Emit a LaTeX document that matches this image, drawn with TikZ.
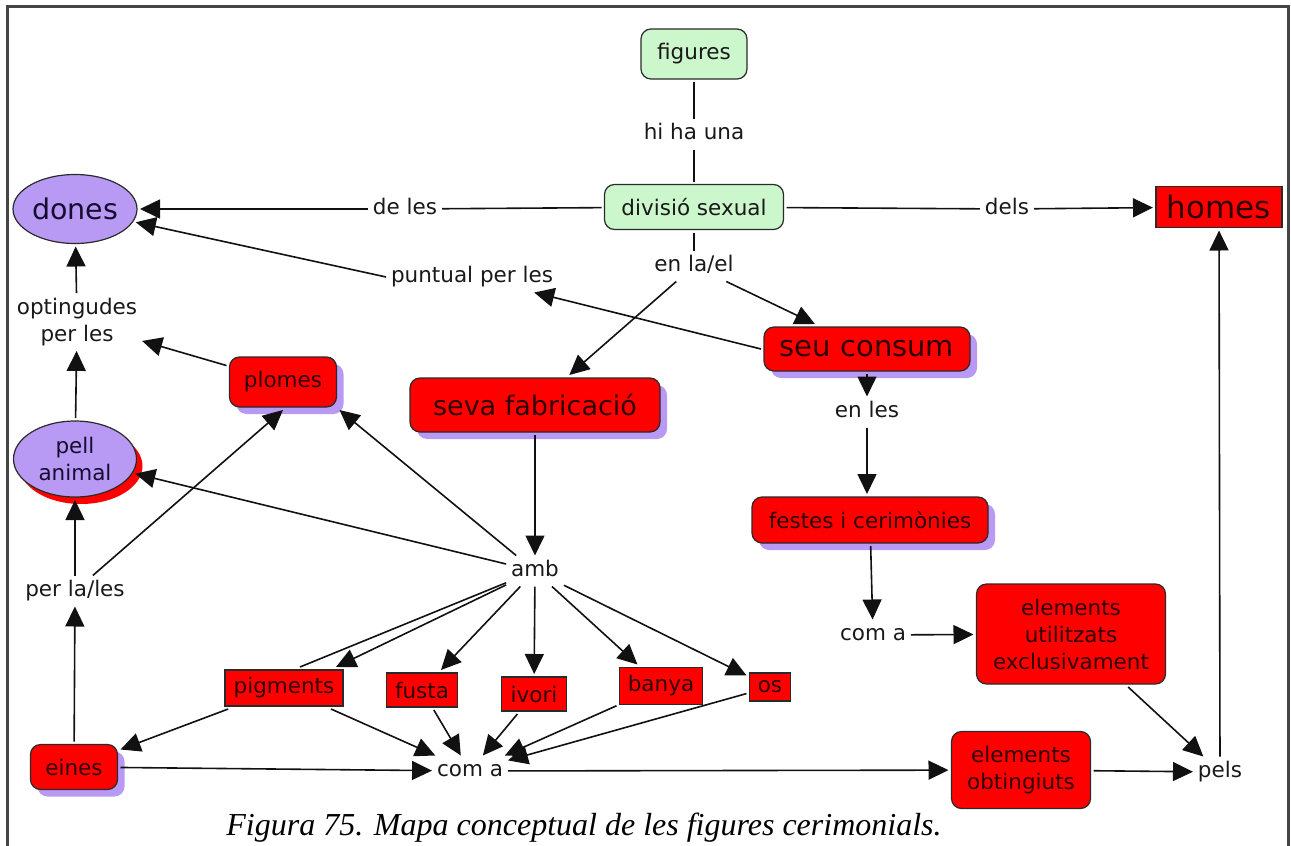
\documentclass[tikz,border=0pt]{standalone}
\usepackage{fontspec}
\setmainfont{DejaVu Sans}
\newfontfamily\capfont{Liberation Serif}
\usetikzlibrary{arrows.meta,shapes.geometric,shadows}

\definecolor{cred}{HTML}{FF0000}
\definecolor{cpurple}{HTML}{B89AF4}
\definecolor{cgreen}{HTML}{CCF7CC}
\definecolor{cborder}{HTML}{2A2A2A}
\definecolor{credtext}{HTML}{2E0000}
\definecolor{cpurtext}{HTML}{150C30}
\definecolor{cline}{HTML}{111111}
\definecolor{cframe}{HTML}{454545}

\newcommand\fs[1]{\fontsize{#1}{27}\selectfont}

\tikzset{
  concept/.style={draw=cborder, line width=1.2pt, inner sep=0pt, outer sep=3pt,
                  align=center, font=\fs{21.5}},
  greenbox/.style={concept, rounded corners=10pt, fill=cgreen, text=black!90},
  redbox/.style={concept, rounded corners=10pt, fill=cred, text=credtext},
  redsq/.style={concept, fill=cred, text=credtext},
  purpleell/.style={concept, ellipse, fill=cpurple, text=cpurtext},
  purshadow/.style={drop shadow={shadow xshift=7pt, shadow yshift=-7pt,
                    fill=cpurple, opacity=1}},
  redshadow/.style={drop shadow={shadow xshift=6pt, shadow yshift=-7pt,
                    fill=cred, opacity=1}},
  lbl/.style={inner sep=2pt, outer sep=3pt, font=\fs{21.5}, text=black!90,
              text height=16pt, text depth=5pt},
  lbltwo/.style={inner sep=2pt, outer sep=3pt, font=\fs{21.5}, text=black!90,
                 align=center},
  link/.style={draw=cline, line width=1.6pt},
  arr/.style={link, -{Triangle[length=20pt,width=19pt]}},
}

\begin{document}
\begin{tikzpicture}[x=1pt,y=-1pt]
\useasboundingbox (0,0) rectangle (1291,846);

% outer frame
\draw[cframe, line width=3pt] (7,852) -- (7,6) -- (1288,6) -- (1288,852);

% ---- concepts ----
\node[greenbox, minimum width=106pt, minimum height=50pt] (figures) at (694,54) {figures};
\node[greenbox, minimum width=179pt, minimum height=45pt] (divisio) at (694,207) {divisió sexual};
\node[purpleell, minimum width=124pt, minimum height=69pt, font=\fs{28.5}] (dones) at (75,209) {dones};
\node[redsq, minimum width=126pt, minimum height=41pt, font=\fs{31}] (homes) at (1219,207) {homes};
\node[redbox, purshadow, minimum width=206pt, minimum height=44pt, font=\fs{29}] (seuconsum) at (867,349) {seu consum};
\node[redbox, purshadow, minimum width=107pt, minimum height=50pt] (plomes) at (283,382) {plomes};
\node[redbox, purshadow, minimum width=250pt, minimum height=54pt, font=\fs{27}] (seva) at (535,405) {seva fabricació};
\node[purpleell, redshadow, minimum width=123pt, minimum height=76pt] (pell) at (75,459) {pell\\animal};
\node[redbox, purshadow, minimum width=236pt, minimum height=46pt] (festes) at (870,520) {festes i cerimònies};
\node[redbox, minimum width=189pt, minimum height=100pt] (utilitzats) at (1071,634) {elements\\utilitzats\\exclusivament};
\node[redsq, minimum width=118pt, minimum height=36pt] (pigments) at (284,688) {pigments};
\node[redsq, minimum width=71pt, minimum height=34pt] (fusta) at (422,690) {fusta};
\node[redsq, minimum width=65pt, minimum height=34pt] (ivori) at (534,694) {ivori};
\node[redsq, minimum width=83pt, minimum height=37pt] (banya) at (661,686) {banya};
\node[redsq, minimum width=41pt, minimum height=28pt] (os) at (770,687) {os};
\node[redbox, purshadow, minimum width=87pt, minimum height=45pt] (eines) at (74,767) {eines};
\node[redbox, minimum width=139pt, minimum height=77pt] (obtingiuts) at (1021,770) {elements\\obtingiuts};

% ---- linking phrases ----
\node[lbl] (hihauna) at (694,134) {hi ha una};
\node[lbl] (deles) at (405,209) {de les};
\node[lbl] (dels) at (1007,209) {dels};
\node[lbl] (enlael) at (694,266) {en la/el};
\node[lbl] (puntual) at (472,277) {puntual per les};
\node[lbltwo] (optingudes) at (77,322) {optingudes\\per les};
\node[lbl] (enles) at (867,412) {en les};
\node[lbl] (amb) at (535,571) {amb};
\node[lbl] (perlales) at (75,591) {per la/les};
\node[lbl] (comaup) at (873,635) {com a};
\node[lbl] (comalow) at (470,771) {com a};
\node[lbl] (pels) at (1220,772) {pels};

% ---- connectors ----
\draw[link] (figures) -- (hihauna);
\draw[link] (hihauna) -- (divisio);
\draw[link] (divisio) -- (deles);
\draw[link] (divisio) -- (dels);
\draw[link] (divisio) -- (enlael);
\draw[arr] (deles) -- (dones);
\draw[arr] (dels) -- (homes);
\draw[arr] (enlael) -- (seva);
\draw[arr] (enlael) -- (seuconsum);
\draw[arr] (seuconsum.west) -- (puntual);
\draw[arr] (puntual.west) -- (dones);
\draw[arr] (seuconsum) -- (enles);
\draw[arr] (enles) -- (enles |- festes.north);
\draw[arr] (festes) -- (comaup);
\draw[arr] (comaup) -- (utilitzats);
\draw[arr] (utilitzats) -- (pels);
\draw[arr] (obtingiuts) -- (pels);
\draw[arr] (pels) -- (homes);
\draw[arr] (seva) -- (amb);
\draw[arr] (amb) -- (pell);
\draw[arr] (amb) -- (plomes.south east);
\draw[arr] (amb) -- ([xshift=-10pt]pigments.north east);
\draw[link] ([xshift=16pt]pigments.north) -- (amb);
\draw[arr] (amb) -- (fusta);
\draw[arr] (amb) -- (ivori);
\draw[arr] (amb) -- (banya);
\draw[arr] (amb) -- (os);
\draw[arr] (pigments) -- (eines);
\draw[arr] (pigments) -- (comalow);
\draw[arr] (fusta) -- (comalow);
\draw[arr] (ivori) -- (comalow);
\draw[arr] (banya) -- (comalow);
\draw[arr] (os) -- (comalow);
\draw[arr] (eines) -- (comalow);
\draw[arr] (comalow) -- (obtingiuts);
\draw[arr] (eines) -- (perlales);
\draw[arr] (perlales) -- (pell);
\draw[arr] (perlales) -- (plomes.south);
\draw[arr] (plomes) -- (optingudes);
\draw[arr] (pell) -- (optingudes);
\draw[arr] (optingudes) -- (dones);

% caption
\node[anchor=base, font=\capfont\itshape\fontsize{32}{36}\selectfont, inner sep=0pt] (caption) at (584,835)
  {Figura 75. Mapa conceptual de les figures cerimonials.};
\end{tikzpicture}
\end{document}
